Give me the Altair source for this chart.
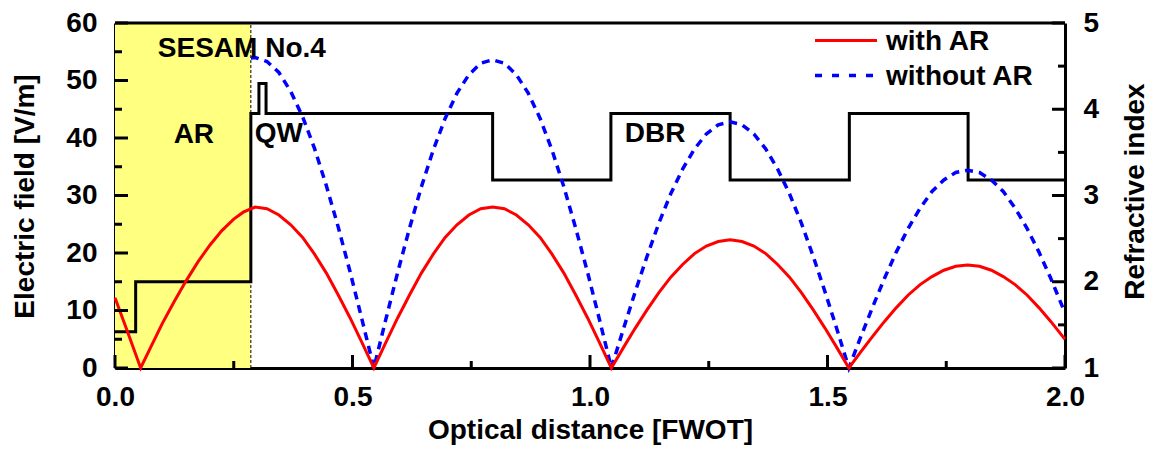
import altair as alt
import pandas as pd

# ---------------- data ----------------
# Optical distance grid across the DBR section (shared by both field curves)
dbr_x = [0.57, 0.595, 0.62, 0.645, 0.67, 0.695, 0.72, 0.745, 0.77, 0.795,
         0.82, 0.845, 0.87, 0.895, 0.92, 0.945, 0.97, 0.995, 1.02, 1.045,
         1.07, 1.095, 1.12, 1.145, 1.17, 1.195, 1.22, 1.245, 1.27, 1.295,
         1.32, 1.345, 1.37, 1.395, 1.42, 1.445, 1.47, 1.495, 1.52, 1.545,
         1.57, 1.595, 1.62, 1.645, 1.67, 1.695, 1.72, 1.745, 1.77, 1.795,
         1.82, 1.845, 1.87, 1.895, 1.92, 1.945, 1.97, 1.995, 2.0]

# Field with anti-reflection coating [V/m]
with_ar_head_x = [0.0, 0.025, 0.054, 0.075, 0.1, 0.125, 0.15, 0.175, 0.2, 0.225,
                  0.25, 0.27, 0.295, 0.32, 0.345, 0.37, 0.395, 0.42, 0.445, 0.47,
                  0.495, 0.52, 0.545]
with_ar_head_y = [12.2, 6.6, 0.0, 3.6, 7.8, 11.6, 15.2, 18.5, 21.4, 23.9,
                  25.9, 27.1, 28.0, 27.7, 26.6, 24.9, 22.7, 19.8, 16.5, 12.7,
                  8.7, 4.4, 0.0]
with_ar_dbr_y = [4.4, 8.7, 12.7, 16.5, 19.8, 22.7, 24.9, 26.6, 27.7, 28.0,
                 27.7, 26.6, 24.9, 22.7, 19.8, 16.5, 12.7, 8.7, 4.4, 0.0,
                 3.5, 6.9, 10.1, 13.1, 15.8, 18.0, 19.9, 21.2, 22.0, 22.3,
                 22.0, 21.2, 19.9, 18.0, 15.8, 13.1, 10.1, 6.9, 3.5, 0.0,
                 2.8, 5.5, 8.1, 10.5, 12.7, 14.5, 15.9, 17.0, 17.7, 17.9,
                 17.7, 17.0, 15.9, 14.5, 12.7, 10.5, 8.1, 5.5, 5.0]

# Field without anti-reflection coating [V/m]
without_ar_head_x = [0.286, 0.295, 0.32, 0.345, 0.37, 0.395, 0.42, 0.445, 0.47,
                     0.495, 0.52, 0.545]
without_ar_head_y = [53.9, 54.0, 53.3, 51.4, 48.1, 43.7, 38.2, 31.7, 24.5,
                     16.7, 8.4, 0.0]
without_ar_dbr_y = [8.4, 16.6, 24.3, 31.5, 37.9, 43.4, 47.8, 51.0, 53.0, 53.6,
                    53.0, 51.0, 47.8, 43.4, 37.9, 31.5, 24.3, 16.6, 8.4, 0.0,
                    6.7, 13.2, 19.4, 25.2, 30.3, 34.6, 38.1, 40.7, 42.3, 42.8,
                    42.3, 40.7, 38.1, 34.6, 30.3, 25.2, 19.4, 13.2, 6.7, 0.0,
                    5.4, 10.6, 15.6, 20.2, 24.3, 27.8, 30.7, 32.7, 34.0, 34.4,
                    34.0, 32.7, 30.7, 27.8, 24.3, 20.2, 15.6, 10.6, 9.6]

# Refractive index profile (value holds until the next boundary)
layer_start = [0.0, 0.0435, 0.286, 0.303, 0.318, 0.795, 1.044, 1.295, 1.546, 1.796, 2.0]
layer_index = [1.42, 2.0, 3.95, 4.30, 3.95, 3.18, 3.95, 3.18, 3.95, 3.18, 3.18]

# AR coating region
ar_region = [0.0, 0.286]

# Region labels
region_labels = ["SESAM No.4", "AR", "QW", "DBR"]
region_label_x = [0.267, 0.166, 0.345, 1.137]
region_label_y = [54.1, 39.1, 39.3, 39.3]

series_names = ["with AR", "without AR"]

# Axis ticks
x_major = [0.0, 0.5, 1.0, 1.5, 2.0]
x_minor = [0.25, 0.75, 1.25, 1.75]
field_major = [0, 10, 20, 30, 40, 50, 60]
field_minor = [5, 15, 25, 35, 45, 55]
index_major = [1, 2, 3, 4, 5]
index_minor = [1.5, 2.5, 3.5, 4.5]

# ---------------- chart ----------------
FONT = "Liberation Sans"
FS = 28
W, H = 950, 345
MAJ, MIN = 13, 7

with_df = pd.DataFrame({"x": with_ar_head_x + dbr_x, "v": with_ar_head_y + with_ar_dbr_y})
without_df = pd.DataFrame({"x": without_ar_head_x + dbr_x, "v": without_ar_head_y + without_ar_dbr_y})
index_df = pd.DataFrame({"x": layer_start, "v": layer_index})
ar_df = pd.DataFrame({"x": [ar_region[0]], "x2": [ar_region[1]], "v": [0], "v2": [60]})
ar_edge_df = pd.DataFrame({"x": [ar_region[1]], "v": [0], "v2": [60]})
label_df = pd.DataFrame({"x": region_label_x, "v": region_label_y, "t": region_labels})

x_scale = alt.Scale(domain=[0, 2], nice=False, zero=False)
yl_scale = alt.Scale(domain=[0, 60], nice=False, zero=False)
yr_scale = alt.Scale(domain=[1, 5], nice=False, zero=False)

x_axis = alt.Axis(title="Optical distance [FWOT]", values=x_major, format=".1f",
                  labelFlush=False, labelOverlap=False, labelBaseline="alphabetic",
                  labelPadding=37, titleX=W / 2, titleY=70, titleBaseline="alphabetic",
                  titleAlign="center", titleAnchor="middle")
yl_axis = alt.Axis(title="Electric field [V/m]", values=field_major, format="d",
                   labelPadding=18, labelOverlap=False, titleAngle=270, titleX=-82,
                   titleY=173, titleAlign="center", titleBaseline="alphabetic")
yr_axis = alt.Axis(title="Refractive index", orient="right", values=index_major, format="d",
                   labelPadding=18, labelOverlap=False, titleAngle=270, titleX=84,
                   titleY=168, titleAlign="center", titleBaseline="bottom")


def X(field="x"):
    return alt.X(f"{field}:Q", scale=x_scale, axis=x_axis)


def YL(field="v", axis=yl_axis):
    return alt.Y(f"{field}:Q", scale=yl_scale, axis=axis)


def YR(field="v"):
    return alt.Y(f"{field}:Q", scale=yr_scale, axis=yr_axis)


# background: shaded AR coating region with its dashed boundary
ar_fill = alt.Chart(ar_df).mark_rect(color="#FFFF80").encode(
    x=X(), x2="x2:Q", y=YL(axis=None), y2="v2:Q")
ar_edge = alt.Chart(ar_edge_df).mark_rule(color="black", strokeWidth=1, strokeDash=[3, 2]).encode(
    x=X(), y=YL(axis=None), y2="v2:Q")
ar_group = alt.layer(ar_fill, ar_edge)

# refractive index profile on the right axis
step = alt.Chart(index_df).mark_line(color="black", strokeWidth=3, interpolate="step-after").encode(
    x=X(), y=YR())
yr_ticks_major = alt.Chart(pd.DataFrame({"v": index_major})).mark_rule(color="black", strokeWidth=3).encode(
    y=YR(), x=alt.value(W), x2=alt.value(W - MAJ))
yr_ticks_minor = alt.Chart(pd.DataFrame({"v": index_minor})).mark_rule(color="black", strokeWidth=3).encode(
    y=YR(), x=alt.value(W), x2=alt.value(W - MIN))
index_group = alt.layer(step, yr_ticks_major, yr_ticks_minor)

# field curves on the left axis
blue = alt.Chart(without_df).mark_line(color="#0000FF", strokeWidth=3.5, strokeDash=[8, 6]).encode(
    x=X(), y=YL())
red = alt.Chart(with_df).mark_line(color="#FF0000", strokeWidth=3).encode(
    x=X(), y=YL())

labels = alt.Chart(label_df).mark_text(font=FONT, fontSize=FS, fontWeight="bold",
                                       baseline="alphabetic", align="center", color="black").encode(
    x=X(), y=YL(), text="t:N")

x_ticks_major = alt.Chart(pd.DataFrame({"x": x_major})).mark_rule(color="black", strokeWidth=3).encode(
    x=X(), y=alt.value(H), y2=alt.value(H - MAJ))
x_ticks_minor = alt.Chart(pd.DataFrame({"x": x_minor})).mark_rule(color="black", strokeWidth=3).encode(
    x=X(), y=alt.value(H), y2=alt.value(H - MIN))
yl_ticks_major = alt.Chart(pd.DataFrame({"v": field_major})).mark_rule(color="black", strokeWidth=3).encode(
    y=YL(), x=alt.value(0), x2=alt.value(MAJ))
yl_ticks_minor = alt.Chart(pd.DataFrame({"v": field_minor})).mark_rule(color="black", strokeWidth=3).encode(
    y=YL(), x=alt.value(0), x2=alt.value(MIN))

top_edge = alt.Chart(pd.DataFrame({"k": [0]})).mark_rule(color="black", strokeWidth=3).encode(
    x=alt.value(0), x2=alt.value(W), y=alt.value(0))

# legend
leg_red = alt.Chart(pd.DataFrame({"t": [series_names[0]]})).mark_rule(color="#FF0000", strokeWidth=3).encode(
    x=alt.value(700), x2=alt.value(762), y=alt.value(17.5))
leg_blue = alt.Chart(pd.DataFrame({"t": [series_names[1]]})).mark_rule(
    color="#0000FF", strokeWidth=3.5, strokeDash=[7, 10]).encode(
    x=alt.value(700), x2=alt.value(762), y=alt.value(52.5))
leg_red_t = alt.Chart(pd.DataFrame({"t": [series_names[0]]})).mark_text(
    font=FONT, fontSize=FS, fontWeight="bold", align="left", baseline="alphabetic", color="black").encode(
    x=alt.value(771), y=alt.value(26.5), text="t:N")
leg_blue_t = alt.Chart(pd.DataFrame({"t": [series_names[1]]})).mark_text(
    font=FONT, fontSize=FS, fontWeight="bold", align="left", baseline="alphabetic", color="black").encode(
    x=alt.value(771), y=alt.value(62), text="t:N")

field_group = alt.layer(blue, red, labels,
                        x_ticks_major, x_ticks_minor, yl_ticks_major, yl_ticks_minor,
                        top_edge, leg_red, leg_blue, leg_red_t, leg_blue_t)

chart = (
    alt.layer(ar_group, index_group, field_group)
    .resolve_scale(y="independent")
    .properties(width=W, height=H, background="white",
                padding={"left": 115, "top": 23, "right": 86, "bottom": 85},
                autosize=alt.AutoSizeParams(type="none"))
    .configure_view(stroke=None)
    .configure_axis(labelFont=FONT, labelFontSize=FS, labelFontWeight="bold", labelColor="black",
                    titleFont=FONT, titleFontSize=FS, titleFontWeight="bold", titleColor="black",
                    domainColor="black", domainWidth=3, grid=False, ticks=False, tickSize=0,
                    zindex=1)
)

chart.save("out.html", embed_options={"renderer": "svg", "actions": False})
